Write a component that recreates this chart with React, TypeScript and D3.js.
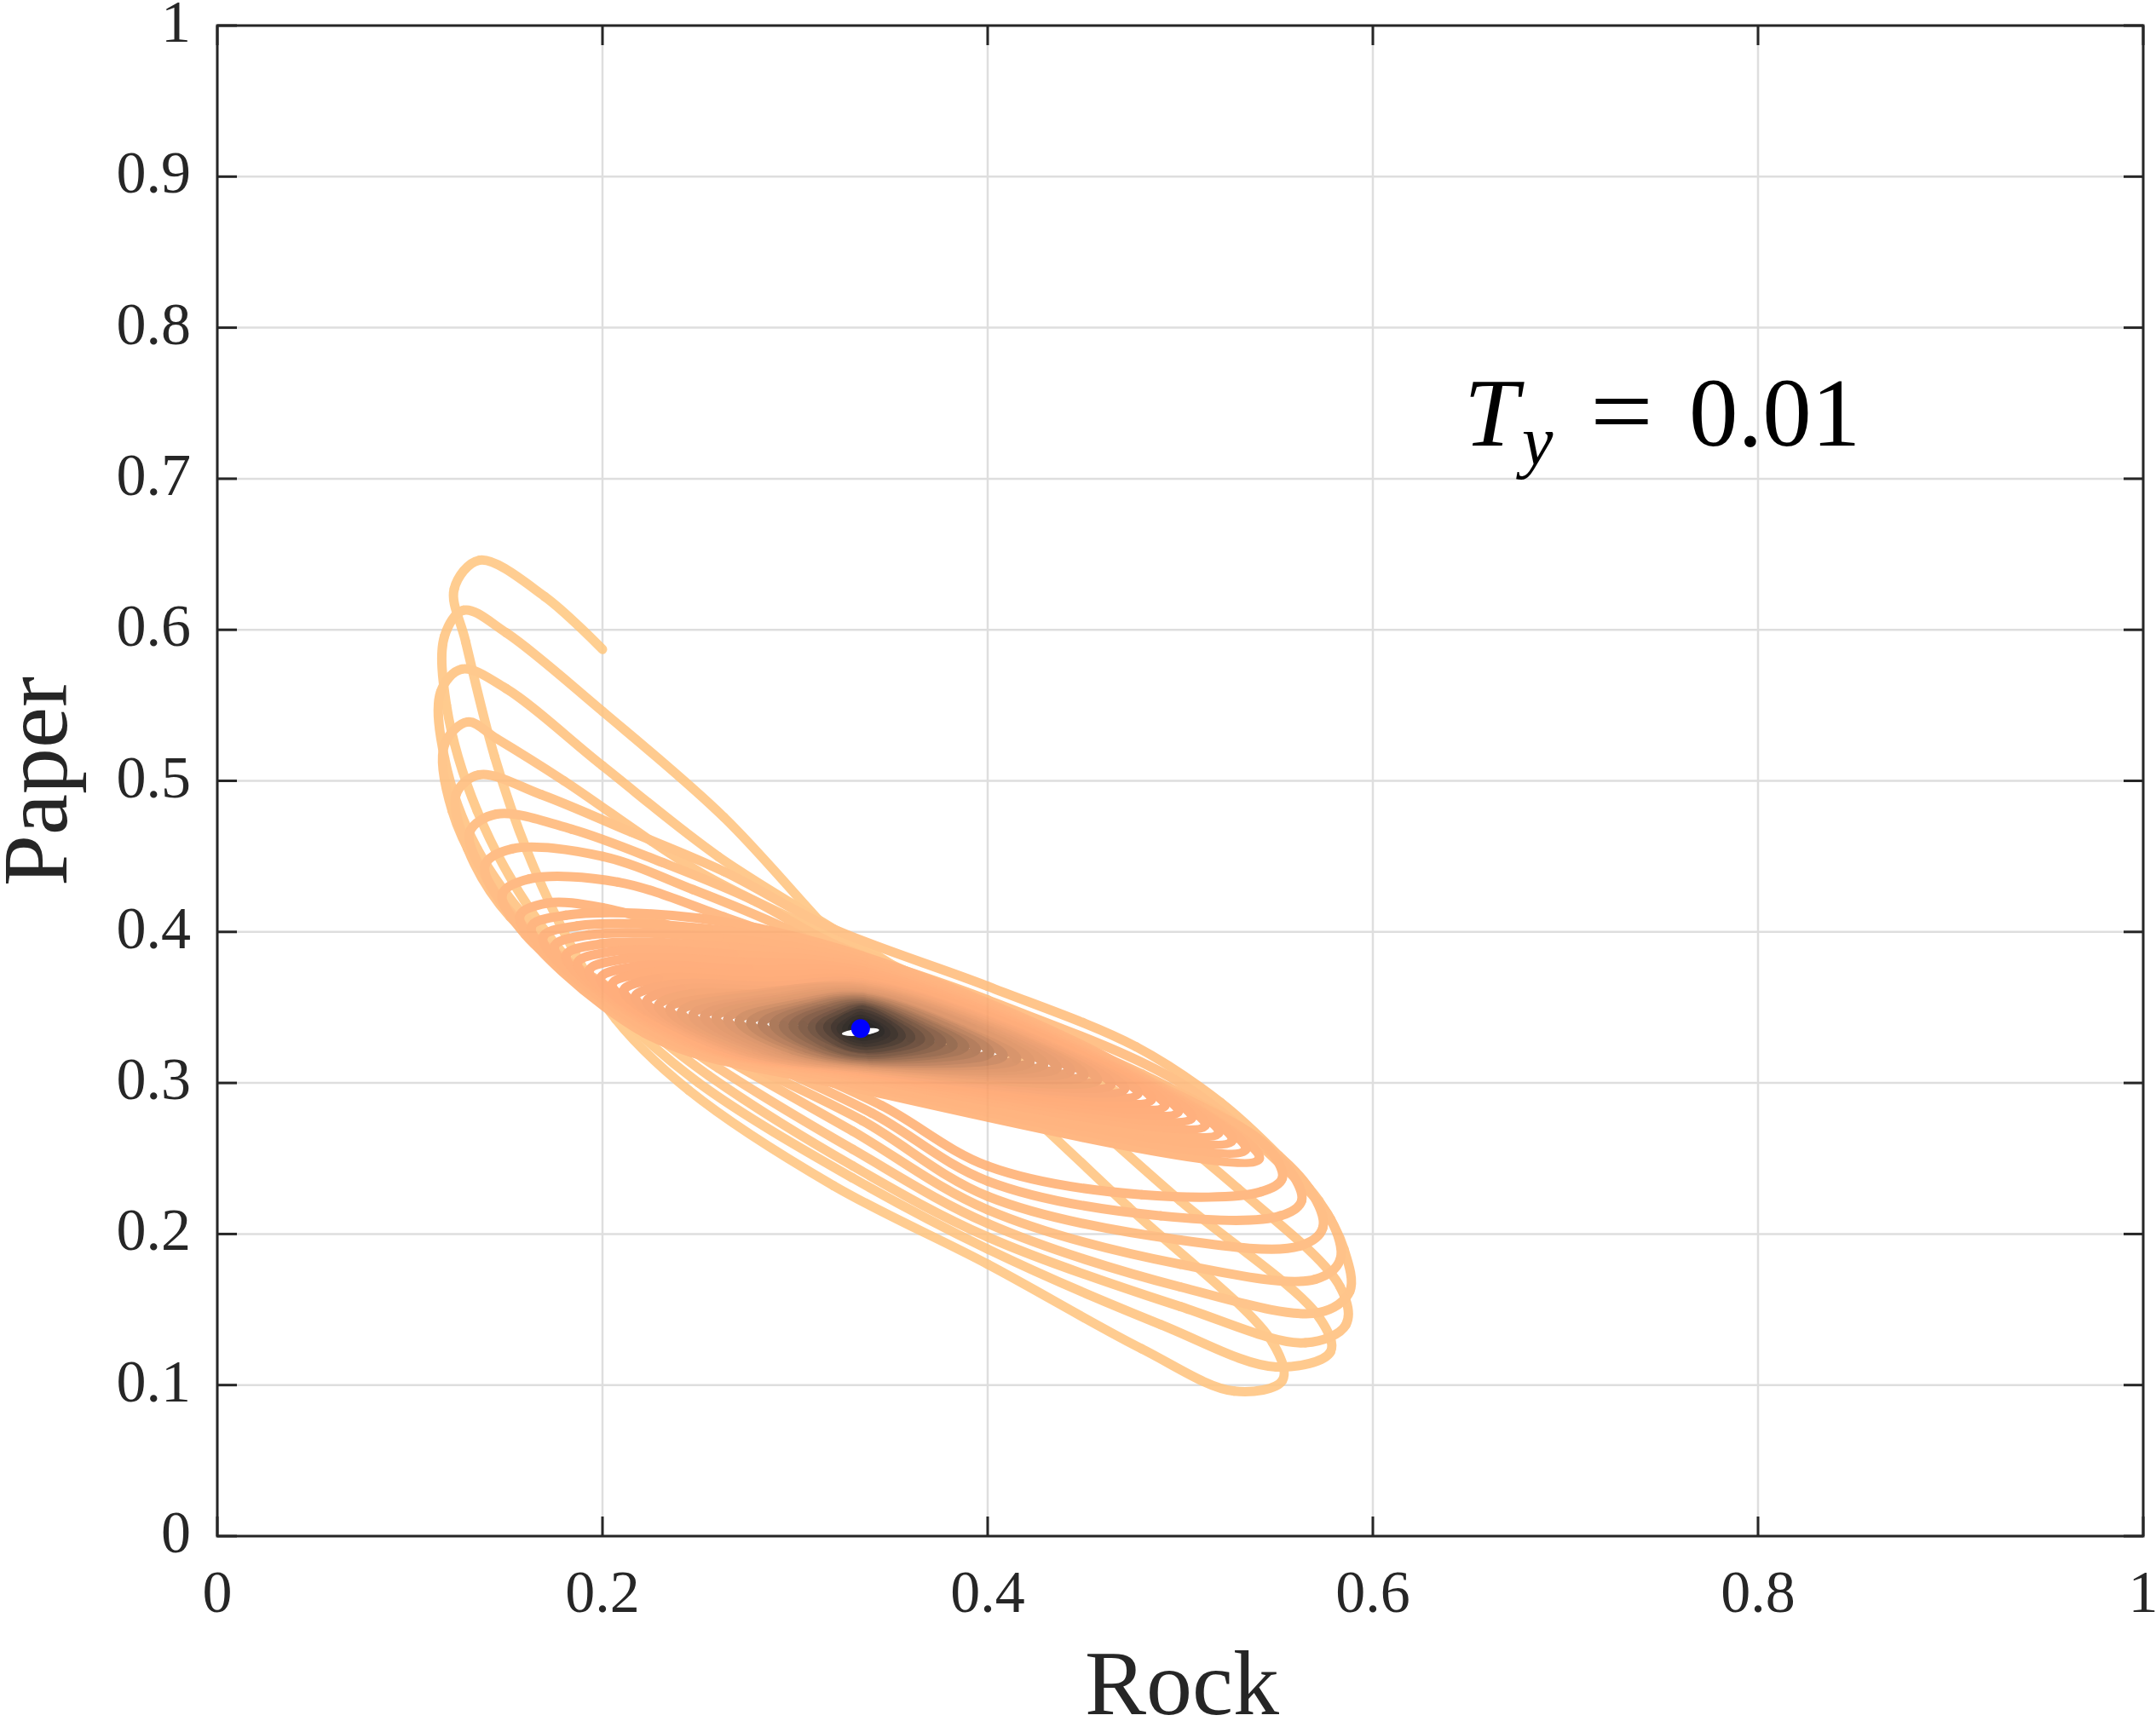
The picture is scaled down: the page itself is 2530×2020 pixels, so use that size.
import { useMemo } from "react"
import * as d3 from "d3"

type Pt = [number, number]

// axis ticks
const xTicks = [0, 0.2, 0.4, 0.6, 0.8, 1]
const xTickLabels = ["0", "0.2", "0.4", "0.6", "0.8", "1"]
const yTicks = [0, 0.1, 0.2, 0.3, 0.4, 0.5, 0.6, 0.7, 0.8, 0.9, 1]
const yTickLabels = ["0", "0.1", "0.2", "0.3", "0.4", "0.5", "0.6", "0.7", "0.8", "0.9", "1"]

// trajectory (rock, paper)
const startTail: Pt[] = [[0.2, 0.587], [0.17, 0.622]]

// the eight wide loops that stay readable one by one
const outerLoops: Pt[][] = [
  [[0.136, 0.646], [0.123, 0.627], [0.129, 0.592], [0.144, 0.516], [0.161, 0.453], [0.184, 0.39], [0.207, 0.342], [0.245, 0.295], [0.32, 0.232], [0.4, 0.18], [0.48, 0.124], [0.528, 0.096], [0.553, 0.103], [0.548, 0.128], [0.473, 0.218], [0.41, 0.293], [0.345, 0.366], [0.318, 0.4], [0.263, 0.476], [0.2, 0.546], [0.15, 0.598]],
  [[0.128, 0.613], [0.118, 0.596], [0.119, 0.55], [0.135, 0.48], [0.165, 0.41], [0.205, 0.35], [0.25, 0.3], [0.33, 0.237], [0.4, 0.19], [0.49, 0.14], [0.55, 0.112], [0.578, 0.122], [0.572, 0.145], [0.5, 0.222], [0.43, 0.3], [0.36, 0.37], [0.325, 0.398], [0.26, 0.45], [0.2, 0.51], [0.15, 0.561]],
  [[0.127, 0.574], [0.116, 0.559], [0.118, 0.515], [0.135, 0.455], [0.17, 0.395], [0.21, 0.35], [0.255, 0.305], [0.33, 0.245], [0.4, 0.198], [0.5, 0.152], [0.565, 0.128], [0.586, 0.14], [0.583, 0.165], [0.53, 0.23], [0.46, 0.3], [0.38, 0.36], [0.32, 0.396], [0.25, 0.44], [0.18, 0.5], [0.145, 0.528]],
  [[0.13, 0.539], [0.118, 0.524], [0.122, 0.48], [0.142, 0.43], [0.175, 0.385], [0.215, 0.35], [0.26, 0.31], [0.33, 0.256], [0.4, 0.207], [0.5, 0.165], [0.572, 0.148], [0.588, 0.162], [0.585, 0.19], [0.572, 0.222], [0.551, 0.252], [0.521, 0.287], [0.477, 0.324], [0.4, 0.364], [0.318, 0.403], [0.263, 0.44], [0.215, 0.466], [0.168, 0.491]],
  [[0.136, 0.504], [0.124, 0.491], [0.13, 0.455], [0.152, 0.41], [0.19, 0.372], [0.225, 0.345], [0.265, 0.315], [0.33, 0.268], [0.4, 0.216], [0.5, 0.18], [0.57, 0.17], [0.583, 0.183], [0.578, 0.21], [0.553, 0.245], [0.5, 0.3], [0.4, 0.355], [0.32, 0.392], [0.278, 0.421], [0.231, 0.446], [0.184, 0.468]],
  [[0.145, 0.478], [0.131, 0.466], [0.14, 0.435], [0.162, 0.4], [0.2, 0.366], [0.235, 0.34], [0.27, 0.316], [0.335, 0.275], [0.4, 0.225], [0.5, 0.196], [0.562, 0.192], [0.574, 0.204], [0.567, 0.23], [0.54, 0.263], [0.48, 0.306], [0.4, 0.348], [0.32, 0.386], [0.294, 0.403], [0.247, 0.428], [0.2, 0.45]],
  [[0.153, 0.455], [0.139, 0.444], [0.15, 0.415], [0.175, 0.385], [0.21, 0.358], [0.245, 0.335], [0.28, 0.316], [0.34, 0.28], [0.4, 0.235], [0.49, 0.212], [0.552, 0.212], [0.563, 0.222], [0.555, 0.245], [0.52, 0.275], [0.46, 0.312], [0.39, 0.345], [0.31, 0.388], [0.263, 0.41], [0.208, 0.433]],
  [[0.162, 0.435], [0.148, 0.425], [0.16, 0.398], [0.185, 0.372], [0.22, 0.35], [0.255, 0.332], [0.29, 0.316], [0.345, 0.285], [0.4, 0.245], [0.48, 0.226], [0.542, 0.228], [0.553, 0.237], [0.545, 0.258], [0.51, 0.285], [0.45, 0.318], [0.38, 0.342], [0.3, 0.375], [0.25, 0.398], [0.2, 0.416]],
]

// the packed loops that fill both fans and the dark core
const innerLoops: Pt[][] = [
  [[0.171, 0.419], [0.157, 0.41], [0.222, 0.333], [0.32, 0.3], [0.541, 0.25], [0.469, 0.312], [0.335, 0.384], [0.25, 0.409], [0.181, 0.411]],
  [[0.163, 0.403], [0.227, 0.332], [0.322, 0.302], [0.534, 0.256], [0.464, 0.314], [0.335, 0.382], [0.255, 0.402], [0.187, 0.404]],
  [[0.169, 0.396], [0.231, 0.331], [0.324, 0.303], [0.527, 0.262], [0.46, 0.316], [0.335, 0.38], [0.26, 0.396], [0.193, 0.398]],
  [[0.175, 0.39], [0.235, 0.33], [0.326, 0.304], [0.52, 0.267], [0.455, 0.318], [0.335, 0.378], [0.264, 0.39], [0.199, 0.392]],
  [[0.181, 0.384], [0.24, 0.329], [0.328, 0.305], [0.513, 0.272], [0.451, 0.32], [0.335, 0.376], [0.268, 0.385], [0.205, 0.387]],
  [[0.187, 0.379], [0.244, 0.328], [0.33, 0.306], [0.506, 0.277], [0.446, 0.322], [0.335, 0.374], [0.272, 0.38], [0.211, 0.382]],
  [[0.193, 0.374], [0.248, 0.327], [0.331, 0.307], [0.499, 0.281], [0.441, 0.324], [0.335, 0.372], [0.276, 0.375], [0.217, 0.377]],
  [[0.199, 0.369], [0.252, 0.326], [0.332, 0.308], [0.492, 0.285], [0.437, 0.325], [0.335, 0.37], [0.28, 0.371], [0.223, 0.373]],
  [[0.205, 0.365], [0.256, 0.325], [0.333, 0.308], [0.485, 0.289], [0.433, 0.327], [0.335, 0.368], [0.284, 0.367], [0.229, 0.369]],
  [[0.211, 0.361], [0.26, 0.325], [0.334, 0.309], [0.478, 0.293], [0.428, 0.327], [0.335, 0.366], [0.288, 0.364], [0.235, 0.365]],
  [[0.217, 0.357], [0.264, 0.323], [0.335, 0.309], [0.471, 0.296], [0.423, 0.329], [0.335, 0.365], [0.292, 0.361], [0.241, 0.362]],
  [[0.223, 0.354], [0.268, 0.323], [0.336, 0.31], [0.464, 0.299], [0.419, 0.33], [0.335, 0.364], [0.296, 0.358], [0.246, 0.359]],
  [[0.229, 0.351], [0.272, 0.322], [0.337, 0.31], [0.457, 0.302], [0.414, 0.331], [0.335, 0.363], [0.28, 0.359]],
  [[0.235, 0.349], [0.276, 0.322], [0.338, 0.311], [0.45, 0.305], [0.41, 0.332], [0.335, 0.362], [0.283, 0.358]],
  [[0.241, 0.347], [0.28, 0.322], [0.338, 0.311], [0.443, 0.308], [0.405, 0.333], [0.335, 0.361], [0.287, 0.356]],
  [[0.247, 0.345], [0.284, 0.322], [0.339, 0.312], [0.436, 0.31], [0.401, 0.334], [0.335, 0.36], [0.29, 0.355]],
  [[0.253, 0.344], [0.287, 0.322], [0.339, 0.312], [0.429, 0.312], [0.396, 0.335], [0.335, 0.359], [0.293, 0.354]],
  [[0.259, 0.343], [0.291, 0.322], [0.34, 0.313], [0.422, 0.314], [0.392, 0.336], [0.335, 0.358], [0.297, 0.353]],
  [[0.265, 0.342], [0.295, 0.322], [0.34, 0.313], [0.415, 0.316], [0.387, 0.335], [0.335, 0.357], [0.3, 0.352]],
  [[0.271, 0.341], [0.299, 0.322], [0.34, 0.314], [0.408, 0.318], [0.383, 0.336], [0.335, 0.356], [0.303, 0.351]],
  [[0.277, 0.34], [0.302, 0.323], [0.34, 0.315], [0.401, 0.32], [0.378, 0.337], [0.335, 0.355], [0.306, 0.35]],
  [[0.283, 0.339], [0.306, 0.323], [0.34, 0.316], [0.394, 0.322], [0.373, 0.337], [0.335, 0.354], [0.31, 0.35]],
  [[0.289, 0.339], [0.309, 0.324], [0.34, 0.317], [0.388, 0.324], [0.369, 0.338], [0.335, 0.353], [0.313, 0.349]],
  [[0.294, 0.338], [0.312, 0.324], [0.339, 0.318], [0.382, 0.325], [0.365, 0.338], [0.335, 0.352], [0.315, 0.348]],
  [[0.299, 0.338], [0.315, 0.325], [0.339, 0.319], [0.376, 0.327], [0.362, 0.338], [0.335, 0.351], [0.318, 0.347]],
  [[0.304, 0.338], [0.318, 0.325], [0.339, 0.32], [0.37, 0.328], [0.358, 0.339], [0.335, 0.35], [0.321, 0.346]],
  [[0.309, 0.337], [0.321, 0.327], [0.338, 0.322], [0.365, 0.329], [0.354, 0.339], [0.335, 0.349], [0.323, 0.345]],
  [[0.313, 0.337], [0.323, 0.327], [0.338, 0.323], [0.36, 0.33], [0.351, 0.339], [0.335, 0.348], [0.326, 0.344]],
  [[0.317, 0.337], [0.325, 0.329], [0.337, 0.325], [0.355, 0.331], [0.348, 0.339], [0.334, 0.346], [0.327, 0.343]],
  [[0.321, 0.337], [0.327, 0.33], [0.337, 0.327], [0.351, 0.332], [0.345, 0.339], [0.334, 0.344], [0.329, 0.341]],
  [[0.324, 0.336], [0.329, 0.331], [0.336, 0.329], [0.347, 0.333], [0.342, 0.338], [0.334, 0.342], [0.33, 0.34]],
  [[0.327, 0.336], [0.33, 0.333], [0.335, 0.331], [0.344, 0.334], [0.34, 0.338], [0.334, 0.34], [0.331, 0.338]],
  [[0.33, 0.336], [0.335, 0.333], [0.34, 0.335], [0.334, 0.338]],
]

const equilibrium: Pt = [0.334, 0.336]

// colour along the trajectory: loop position -> copper level
const SHADE_POS = [0, 4, 9, 20, 27, 31, 35, 38, 42]
const SHADE_T = [1, 0.95, 0.86, 0.78, 0.68, 0.5, 0.3, 0.12, 0]

const W = 2530
const H = 2020
const PLOT = { left: 255, right: 2515, top: 30, bottom: 1803 }
const INK = "#262626"
const GRID = "#dedede"
const FONT = "'Liberation Serif', 'DejaVu Serif', serif"
const TICK = 23

const copper = (t: number) =>
  d3.rgb(255 * Math.min(1, 1.25 * t), 255 * 0.7812 * t, 255 * 0.4975 * t).formatHex()

// collects each bezier piece of a d3 curve as its own path string
function splitCurve(points: Pt[], line: d3.Line<Pt>) {
  const pieces: string[] = []
  let cx = 0
  let cy = 0
  const f = (v: number) => v.toFixed(1)
  const ctx: any = {
    moveTo(x: number, y: number) {
      cx = x
      cy = y
    },
    lineTo(x: number, y: number) {
      pieces.push(`M${f(cx)},${f(cy)}L${f(x)},${f(y)}`)
      cx = x
      cy = y
    },
    bezierCurveTo(a: number, b: number, c: number, d: number, x: number, y: number) {
      pieces.push(`M${f(cx)},${f(cy)}C${f(a)},${f(b)},${f(c)},${f(d)},${f(x)},${f(y)}`)
      cx = x
      cy = y
    },
    closePath() {},
  }
  line.context(ctx)(points)
  return pieces
}

export default function App() {
  const x = d3.scaleLinear().domain([0, 1]).range([PLOT.left, PLOT.right])
  const y = d3.scaleLinear().domain([0, 1]).range([PLOT.bottom, PLOT.top])

  const pieces = useMemo(() => {
    const loops = [startTail, ...outerLoops, ...innerLoops]
    const pts: Pt[] = []
    const loopOf: number[] = []
    loops.forEach((l, li) => {
      l.forEach((p, j) => {
        pts.push(p)
        loopOf.push(li + j / l.length)
      })
    })
    pts.push(equilibrium)
    loopOf.push(loops.length)

    const line = d3
      .line<Pt>()
      .x((d) => x(d[0]))
      .y((d) => y(d[1]))
      .curve(d3.curveCatmullRom.alpha(0.5))
    const segs = splitCurve(pts, line)
    const shade = d3.scaleLinear().domain(SHADE_POS).range(SHADE_T).clamp(true)
    return segs.map((d, i) => {
      const k = Math.min(loopOf.length - 2, Math.round((i * (pts.length - 1)) / Math.max(1, segs.length)))
      const pos = (loopOf[k] + loopOf[k + 1]) / 2
      return { d, color: copper(shade(pos)) }
    })
  }, [])

  return (
    <div style={{ position: "absolute", left: 0, top: 0 }}>
      <svg width={W} height={H} style={{ display: "block", background: "#fff" }}>
        {/* grid */}
        {xTicks.map((t, i) => (
          <line key={`gx${i}`} x1={x(t)} x2={x(t)} y1={PLOT.top} y2={PLOT.bottom} stroke={GRID} strokeWidth={2.5} />
        ))}
        {yTicks.map((t, i) => (
          <line key={`gy${i}`} x1={PLOT.left} x2={PLOT.right} y1={y(t)} y2={y(t)} stroke={GRID} strokeWidth={2.5} />
        ))}

        <g opacity={0.85}>
          {pieces.map((p, i) => (
            <path key={i} d={p.d} fill="none" stroke={p.color} strokeWidth={11} strokeLinecap="round" />
          ))}
        </g>

        <ellipse
          cx={x(equilibrium[0])}
          cy={y(equilibrium[1]) + 4}
          rx={22}
          ry={4}
          fill="#fff"
          transform={`rotate(-6 ${x(equilibrium[0])} ${y(equilibrium[1]) + 4})`}
        />
        <circle cx={x(equilibrium[0])} cy={y(equilibrium[1])} r={11} fill="#0000ff" />

        {/* box and ticks */}
        <rect
          x={PLOT.left}
          y={PLOT.top}
          width={PLOT.right - PLOT.left}
          height={PLOT.bottom - PLOT.top}
          fill="none"
          stroke={INK}
          strokeWidth={3}
        />
        {xTicks.map((t, i) => (
          <g key={`tx${i}`} stroke={INK} strokeWidth={3}>
            <line x1={x(t)} x2={x(t)} y1={PLOT.bottom} y2={PLOT.bottom - TICK} />
            <line x1={x(t)} x2={x(t)} y1={PLOT.top} y2={PLOT.top + TICK} />
          </g>
        ))}
        {yTicks.map((t, i) => (
          <g key={`ty${i}`} stroke={INK} strokeWidth={3}>
            <line x1={PLOT.left} x2={PLOT.left + TICK} y1={y(t)} y2={y(t)} />
            <line x1={PLOT.right} x2={PLOT.right - TICK} y1={y(t)} y2={y(t)} />
          </g>
        ))}

        {/* tick labels */}
        {xTicks.map((t, i) => (
          <text key={`lx${i}`} x={x(t)} y={1892} textAnchor="middle" fontFamily={FONT} fontSize={70} fill={INK}>
            {xTickLabels[i]}
          </text>
        ))}
        {yTicks.map((t, i) => (
          <text key={`ly${i}`} x={224} y={y(t) + 19} textAnchor="end" fontFamily={FONT} fontSize={70} fill={INK}>
            {yTickLabels[i]}
          </text>
        ))}

        {/* axis labels */}
        <text x={1387} y={2012} textAnchor="middle" fontFamily={FONT} fontSize={108} fill={INK}>
          Rock
        </text>
        <text
          transform="translate(78, 917) rotate(-90)"
          textAnchor="middle"
          fontFamily={FONT}
          fontSize={108}
          fill={INK}
        >
          Paper
        </text>

        {/* annotation */}
        <text y={523} fontFamily={FONT} fill="#000">
          <tspan x={1718} fontSize={115} fontStyle="italic">T</tspan>
          <tspan x={1786} y={545} fontSize={82} fontStyle="italic">y</tspan>
          <tspan x={1866} y={523} fontSize={120} textLength={74} lengthAdjust="spacingAndGlyphs">=</tspan>
          <tspan x={1982} fontSize={115}>0.01</tspan>
        </text>
      </svg>
    </div>
  )
}
